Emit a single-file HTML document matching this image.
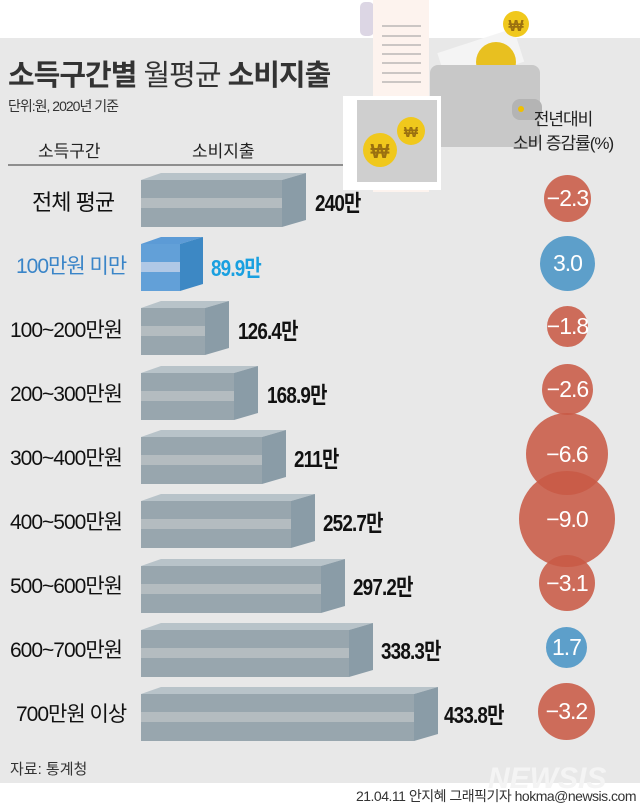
<!DOCTYPE html>
<html><head><meta charset="utf-8"><style>
body{margin:0;width:640px;height:807px;background:#fff;position:relative;overflow:hidden;font-family:"Liberation Sans","Noto Sans CJK KR",sans-serif}
.a{position:absolute;white-space:nowrap}
.bg{left:0;top:38px;width:640px;height:745px;background:#e8e8e8}
.lab{font-size:21px;color:#111;letter-spacing:-1px}
.val{font-size:23px;color:#111;font-weight:bold;letter-spacing:-1px;transform:scaleX(0.82);transform-origin:left}
.c{border-radius:50%;background:rgba(200,90,70,0.88);color:#fff;font-size:23px;display:flex;align-items:center;justify-content:center;letter-spacing:-1px}
.b{background:#5d9fca}
</style></head><body>
<div class="a bg"></div>
<svg class="a" style="left:0;top:0" width="640" height="807">
 <g transform="rotate(-18 480 55)"><rect x="440" y="40" width="80" height="35" fill="#f4f4f4"/></g>
 <circle cx="496" cy="62" r="20" fill="#e8c020"/>
 <rect x="430" y="65" width="110" height="82" rx="8" fill="#c8c8c8"/>
 <rect x="512" y="99" width="30" height="21" rx="8" fill="#b4b4b4"/>
 <circle cx="521" cy="109" r="3" fill="#f0c000"/>
 <circle cx="516" cy="24" r="13" fill="#f0c81c"/><text x="516" y="31" font-size="16" text-anchor="middle" fill="#9a7010" font-weight="bold">₩</text>
 <rect x="360" y="2" width="14" height="34" rx="5" fill="#dcd6e4"/>
 <rect x="373" y="0" width="56" height="192" fill="#fdf3ee"/>
 <g stroke="#999" stroke-width="1"><line x1="382" y1="26" x2="421" y2="26"/><line x1="382" y1="36" x2="421" y2="36"/><line x1="382" y1="45" x2="421" y2="45"/><line x1="382" y1="54" x2="421" y2="54"/><line x1="382" y1="63" x2="421" y2="63"/><line x1="382" y1="73" x2="421" y2="73"/><line x1="382" y1="82" x2="421" y2="82"/></g>
 <rect x="343" y="96" width="98" height="94" fill="#fff"/>
 <rect x="357" y="100" width="80" height="82" fill="#cfcfcf"/>
 <circle cx="411" cy="131" r="14" fill="#f0c81c"/><text x="411" y="137" font-size="15" text-anchor="middle" fill="#9a7010" font-weight="bold">₩</text>
 <circle cx="380" cy="150" r="17" fill="#f0c81c"/><text x="380" y="158" font-size="20" text-anchor="middle" fill="#9a7010" font-weight="bold">₩</text>
 <line x1="8" y1="165" x2="343" y2="165" stroke="#333" stroke-width="1"/>
 <g id="bars"></g>
</svg>
<div class="a" style="left:8px;top:52px;font-size:29px;font-weight:bold;color:#333;letter-spacing:-1px">소득구간별 <span style="font-weight:normal">월평균</span> 소비지출</div>
<div class="a" style="left:8px;top:96px;font-size:14px;color:#333;letter-spacing:-1px">단위:원, 2020년 기준</div>
<div class="a" style="left:38px;top:137px;font-size:17px;color:#222">소득구간</div>
<div class="a" style="left:192px;top:137px;font-size:17px;color:#222">소비지출</div>
<div class="a" style="left:500px;top:108px;width:126px;text-align:center;font-size:17px;color:#222;line-height:24px;letter-spacing:-1px">전년대비<br>소비 증감률(%)</div>

<div class="a lab" style="left:32px;top:185px;font-size:22px">전체 평균</div>
<div class="a lab" style="left:16px;top:250px;color:#3a85c8">100만원 미만</div>
<div class="a lab" style="left:10px;top:314px">100~200만원</div>
<div class="a lab" style="left:10px;top:378px">200~300만원</div>
<div class="a lab" style="left:10px;top:442px">300~400만원</div>
<div class="a lab" style="left:10px;top:506px">400~500만원</div>
<div class="a lab" style="left:10px;top:570px">500~600만원</div>
<div class="a lab" style="left:10px;top:634px">600~700만원</div>
<div class="a lab" style="left:16px;top:698px">700만원 이상</div>

<div class="a val" style="left:315px;top:184px">240만</div>
<div class="a val" style="left:211px;top:249px;color:#1aa0e0">89.9만</div>
<div class="a val" style="left:238px;top:312px">126.4만</div>
<div class="a val" style="left:267px;top:376px">168.9만</div>
<div class="a val" style="left:294px;top:440px">211만</div>
<div class="a val" style="left:323px;top:504px">252.7만</div>
<div class="a val" style="left:353px;top:568px">297.2만</div>
<div class="a val" style="left:381px;top:632px">338.3만</div>
<div class="a val" style="left:444px;top:696px">433.8만</div>

<div class="a c" style="left:544px;top:175px;width:47px;height:47px">−2.3</div>
<div class="a c b" style="left:540px;top:236px;width:55px;height:55px">3.0</div>
<div class="a c" style="left:547px;top:306px;width:41px;height:41px">−1.8</div>
<div class="a c" style="left:542px;top:364px;width:51px;height:51px">−2.6</div>
<div class="a c" style="left:526px;top:413px;width:82px;height:82px">−6.6</div>
<div class="a c" style="left:519px;top:471px;width:96px;height:96px">−9.0</div>
<div class="a c" style="left:539px;top:555px;width:56px;height:56px">−3.1</div>
<div class="a c b" style="left:546px;top:627px;width:41px;height:41px">1.7</div>
<div class="a c" style="left:538px;top:683px;width:57px;height:57px">−3.2</div>

<div class="a" style="left:10px;top:758px;font-size:15px;color:#333">자료: 통계청</div>
<div class="a" style="left:488px;top:762px;font-size:30px;font-weight:bold;font-style:italic;color:#f4f4f4">NEWSIS</div>
<div class="a" style="right:4px;top:786px;font-size:14px;color:#333;letter-spacing:-0.5px">21.04.11 안지혜 그래픽기자 hokma@newsis.com</div>
<script>
var rows=[[173,282,306,0],[237,180,203,1],[301,205,229,0],[366,234,258,0],[430,262,286,0],[494,291,315,0],[559,321,345,0],[623,349,373,0],[687,414,438,0]];
var s='';
rows.forEach(function(r){var t=r[0],f=r[1],e=r[2],bl=r[3];
var ft=bl?'#62a0d8':'#98a6ae',sd=bl?'#3d88c4':'#8a9ca7',tp=bl?'#5c9bd6':'#b8c3c9',st=bl?'#b0c8e6':'#b4bcc0';
s+='<polygon points="141,'+(t+7)+' 161,'+t+' '+e+','+t+' '+f+','+(t+7)+'" fill="'+tp+'"/>';
s+='<rect x="141" y="'+(t+7)+'" width="'+(f-141)+'" height="47" fill="'+ft+'"/>';
s+='<rect x="141" y="'+(t+25)+'" width="'+(f-141)+'" height="10" fill="'+st+'"/>';
s+='<polygon points="'+f+','+(t+7)+' '+e+','+t+' '+e+','+(t+47)+' '+f+','+(t+54)+'" fill="'+sd+'"/>';});
document.getElementById('bars').innerHTML=s;
</script>
</body></html>
